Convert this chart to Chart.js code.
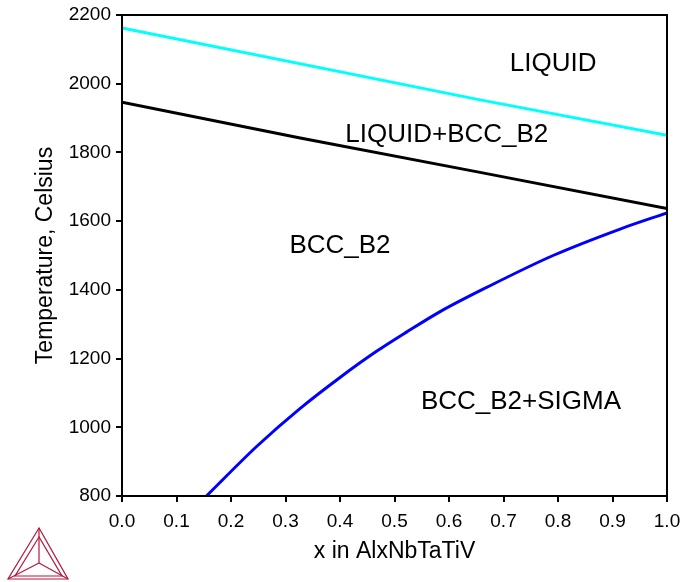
<!DOCTYPE html>
<html>
<head>
<meta charset="utf-8">
<script src="https://cdn.jsdelivr.net/npm/chart.js@4.4.1/dist/chart.umd.min.js"></script>
<style>
html,body{margin:0;padding:0;background:#fff;}
#wrap{position:relative;width:681px;height:582px;}
canvas{display:block;}
#logo{position:absolute;left:0;top:0;}
</style>
</head>
<body>
<div id="wrap">
<canvas id="c" width="681" height="582"></canvas>
<svg id="logo" width="681" height="582" viewBox="0 0 681 582">
  <g fill="none" stroke="#b3183d" stroke-width="1.2" stroke-linejoin="miter">
    <polygon points="39,528 8,579 68,579"/>
    <polygon points="39,537 15,576 62,576"/>
    <line x1="39" y1="528" x2="39" y2="563"/>
    <line x1="8" y1="579" x2="39" y2="563"/>
    <line x1="68" y1="579" x2="39" y2="563"/>
  </g>
</svg>
</div>
<script>
// ---- data ----
const liquidusX = [0, 0.657, 1];
const liquidusT = [2162, 1953, 1850];

const solidusX = [0, 0.327, 0.657, 1];
const solidusT = [1946, 1842, 1742, 1637];

const sigmaX = [0.155, 0.247, 0.327, 0.4, 0.467, 0.522, 0.583, 0.669, 0.791, 0.914, 1.0];
const sigmaT = [800, 944, 1055, 1145, 1221, 1277, 1336, 1407, 1500, 1577, 1624];

const xTicks = [0, 0.1, 0.2, 0.3, 0.4, 0.5, 0.6, 0.7, 0.8, 0.9, 1.0];
const yTicks = [800, 1000, 1200, 1400, 1600, 1800, 2000, 2200];

const regionLabels = ['LIQUID', 'LIQUID+BCC_B2', 'BCC_B2', 'BCC_B2+SIGMA'];
const regionX = [0.791, 0.596, 0.4, 0.732];
const regionT = [2038, 1830, 1506, 1052];

const toPts = (xs, ys) => xs.map((x, i) => ({x: x, y: ys[i]}));

const FONT = "'Liberation Sans', Arial, Helvetica, sans-serif";

const framePlugin = {
  id: 'frame',
  afterDatasetsDraw(chart) {
    const {ctx, chartArea: a} = chart;
    ctx.save();
    ctx.strokeStyle = '#000';
    ctx.lineWidth = 2;
    ctx.strokeRect(a.left, a.top, a.right - a.left, a.bottom - a.top);
    ctx.restore();
  }
};

const regionPlugin = {
  id: 'regions',
  afterDatasetsDraw(chart) {
    const {ctx, scales: {x, y}} = chart;
    ctx.save();
    ctx.fillStyle = '#000';
    ctx.font = '26px ' + FONT;
    ctx.textAlign = 'center';
    ctx.textBaseline = 'alphabetic';
    regionLabels.forEach((t, i) => {
      ctx.fillText(t, x.getPixelForValue(regionX[i]), y.getPixelForValue(regionT[i]));
    });
    ctx.restore();
  }
};

new Chart(document.getElementById('c'), {
  type: 'scatter',
  data: {
    datasets: [
      {data: toPts(liquidusX, liquidusT), borderColor: '#00ffff', borderWidth: 3, showLine: true, pointRadius: 0, tension: 0},
      {data: toPts(solidusX, solidusT), borderColor: '#000000', borderWidth: 3, showLine: true, pointRadius: 0, tension: 0},
      {data: toPts(sigmaX, sigmaT), borderColor: '#0000ff', borderWidth: 3, showLine: true, pointRadius: 0, cubicInterpolationMode: 'monotone'}
    ]
  },
  options: {
    responsive: false,
    animation: false,
    devicePixelRatio: 1,
    layout: {padding: {left: 32, right: 14, top: 15, bottom: 17}},
    plugins: {legend: {display: false}, tooltip: {enabled: false}},
    scales: {
      x: {
        type: 'linear', min: 0, max: 1,
        afterBuildTicks: s => { s.ticks = xTicks.map(v => ({value: v})); },
        afterFit: s => { s.height = 69; s.paddingLeft = 0; s.paddingRight = 0; },
        ticks: {color: '#000', font: {family: FONT, size: 19}, padding: 8, maxRotation: 0,
                callback: v => Number(v).toFixed(1)},
        grid: {drawOnChartArea: false, drawTicks: true, tickLength: 6, color: '#000', lineWidth: 2},
        border: {display: true, color: '#000', width: 2},
        title: {display: true, text: 'x in AlxNbTaTiV', color: '#000', font: {family: FONT, size: 23}, padding: 0}
      },
      y: {
        type: 'linear', min: 800, max: 2200,
        afterBuildTicks: s => { s.ticks = yTicks.map(v => ({value: v})); },
        afterFit: s => { s.width = 90; s.paddingTop = 0; s.paddingBottom = 0; },
        ticks: {color: '#000', font: {family: FONT, size: 19}, padding: 5,
                callback: v => String(v)},
        grid: {drawOnChartArea: false, drawTicks: true, tickLength: 6, color: '#000', lineWidth: 2},
        border: {display: true, color: '#000', width: 2},
        title: {display: true, text: 'Temperature, Celsius', color: '#000', font: {family: FONT, size: 23}, padding: 0}
      }
    }
  },
  plugins: [framePlugin, regionPlugin]
});
</script>
</body>
</html>
